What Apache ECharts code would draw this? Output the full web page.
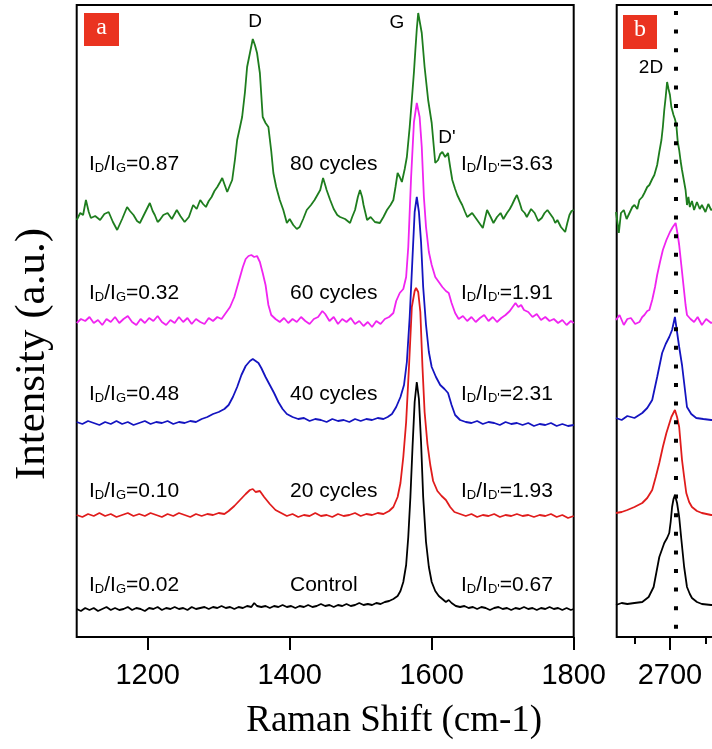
<!DOCTYPE html>
<html><head><meta charset="utf-8">
<script src="https://cdn.jsdelivr.net/npm/echarts@6/dist/echarts.min.js"></script>
<style>html,body{margin:0;padding:0;background:#fff}#c{width:712px;height:749px}</style>
</head><body><div id="c"></div>
<script>
// ---- data (Raman shift cm^-1, intensity a.u., curves offset vertically as in the figure) ----
const ticksA = [1200, 1400, 1600, 1800];
const ticksB = [2700, 2800];
const labelsB = [2700];
const minorTicksB = [2650, 2750];
const seriesNames = ['80 cycles', '60 cycles', '40 cycles', '20 cycles', 'Control'];
const seriesColors = ['#1e7d1e', '#f024f0', '#1414c0', '#e01c1c', '#000000'];
const ratioDG = ['0.87', '0.32', '0.48', '0.10', '0.02'];
const ratioDDp = ['3.63', '1.91', '2.31', '1.93', '0.67'];
const peakLabels = ['D', 'G', "D'"];
const line2D = 2708.5;

const a80 = [[1100,417],[1105,424],[1109,422],[1113,437],[1117,425],[1120,419],[1126,421],[1133,417],[1139,423],[1145,425],[1151,415],[1157,407],[1164,418],[1171,430],[1175,426],[1180,422],[1185,416],[1189,414],[1196,424],[1203,434],[1207,426],[1210,422],[1214,415],[1217,417],[1222,422],[1228,424],[1234,418],[1241,427],[1246,421],[1252,415],[1258,420],[1264,432],[1269,428],[1274,437],[1278,433],[1282,430],[1286,436],[1290,440],[1294,446],[1298,450],[1302,455],[1305,459],[1309,451],[1312,445],[1316,452],[1319,457],[1323,478],[1326,497],[1330,510],[1333,520],[1337,545],[1340,570],[1344,584],[1348,598],[1351,592],[1354,584],[1358,564],[1362,520],[1366,514],[1370,510],[1374,486],[1377,464],[1381,450],[1386,437],[1391,427],[1396,414],[1400,418],[1405,412],[1410,408],[1414,410],[1419,418],[1424,427],[1430,432],[1435,437],[1439,442],[1443,447],[1447,459],[1450,452],[1452,447],[1457,437],[1462,428],[1467,422],[1471,420],[1478,418],[1485,414],[1488,420],[1492,427],[1496,440],[1499,447],[1502,440],[1504,432],[1509,417],[1514,420],[1520,415],[1527,414],[1532,420],[1537,427],[1542,432],[1546,437],[1549,450],[1552,464],[1555,460],[1558,455],[1562,468],[1565,480],[1569,510],[1572,537],[1575,565],[1577,587],[1579,608],[1581,624],[1584,612],[1586,604],[1590,570],[1595,537],[1600,514],[1603,490],[1605,474],[1609,477],[1612,483],[1615,485],[1619,480],[1623,484],[1626,470],[1629,457],[1633,448],[1636,442],[1640,436],[1643,432],[1647,425],[1650,420],[1657,424],[1664,417],[1668,413],[1672,409],[1675,418],[1678,427],[1683,420],[1687,414],[1692,420],[1697,424],[1701,418],[1706,424],[1710,428],[1713,432],[1717,438],[1720,442],[1724,434],[1727,427],[1731,424],[1734,420],[1740,428],[1745,424],[1750,416],[1755,419],[1759,424],[1763,427],[1767,423],[1771,419],[1774,414],[1777,417],[1782,410],[1788,405],[1791,414],[1794,422],[1797,426],[1800,427]];
const a60 = [[1100,314],[1106,318],[1112,316],[1118,320],[1124,314],[1130,317],[1136,312],[1142,318],[1148,315],[1154,320],[1160,314],[1166,318],[1172,321],[1178,315],[1184,312],[1190,318],[1196,314],[1202,319],[1208,316],[1214,321],[1220,315],[1226,312],[1232,317],[1238,314],[1244,320],[1250,315],[1256,319],[1262,313],[1268,318],[1274,315],[1280,313],[1286,319],[1292,316],[1298,320],[1304,318],[1310,324],[1316,330],[1322,340],[1328,355],[1334,370],[1338,378],[1342,381],[1346,382],[1350,380],[1354,381],[1358,375],[1362,364],[1366,352],[1370,332],[1374,322],[1380,318],[1386,315],[1392,319],[1398,314],[1404,318],[1410,315],[1416,320],[1422,316],[1428,313],[1434,318],[1440,320],[1446,326],[1450,323],[1456,316],[1462,320],[1468,313],[1474,318],[1480,315],[1486,319],[1492,313],[1498,316],[1504,311],[1510,315],[1516,310],[1522,316],[1528,313],[1534,318],[1540,320],[1546,324],[1550,336],[1555,344],[1560,348],[1564,360],[1567,390],[1571,460],[1575,515],[1579,534],[1583,520],[1586,490],[1589,440],[1592,410],[1596,385],[1600,372],[1605,360],[1610,355],[1615,350],[1620,346],[1624,344],[1628,334],[1633,324],[1638,318],[1644,321],[1650,316],[1656,320],[1662,315],[1668,319],[1674,322],[1680,316],[1686,320],[1692,315],[1698,319],[1704,322],[1710,326],[1714,330],[1718,334],[1722,330],[1726,332],[1730,327],[1736,325],[1742,320],[1748,323],[1754,317],[1760,320],[1766,316],[1772,318],[1778,314],[1784,317],[1790,312],[1796,316],[1800,314]];
const a40 = [[1100,215],[1108,213],[1116,216],[1124,214],[1132,212],[1140,215],[1148,213],[1156,216],[1164,213],[1172,215],[1180,212],[1188,214],[1196,216],[1204,213],[1212,215],[1220,214],[1228,216],[1236,213],[1244,215],[1252,214],[1260,216],[1268,215],[1276,218],[1284,220],[1292,223],[1300,225],[1308,228],[1314,232],[1320,240],[1326,250],[1332,262],[1338,271],[1344,276],[1348,278],[1352,276],[1356,274],[1360,269],[1366,260],[1372,252],[1378,244],[1384,235],[1390,228],[1396,223],[1404,220],[1412,218],[1420,219],[1428,216],[1436,218],[1444,217],[1452,215],[1460,218],[1468,216],[1476,217],[1484,215],[1492,218],[1500,216],[1508,218],[1516,217],[1524,219],[1532,218],[1538,220],[1544,223],[1550,230],[1556,240],[1561,252],[1565,275],[1569,320],[1573,380],[1576,425],[1579,440],[1582,425],[1585,395],[1588,350],[1592,312],[1596,285],[1600,270],[1606,260],[1612,252],[1618,248],[1623,244],[1628,232],[1633,222],[1640,217],[1648,215],[1656,214],[1664,216],[1672,213],[1680,215],[1688,214],[1696,212],[1704,215],[1712,213],[1720,214],[1728,212],[1736,214],[1744,211],[1752,213],[1760,212],[1768,214],[1776,211],[1784,213],[1792,211],[1800,212]];
const a20 = [[1100,122],[1108,120],[1116,123],[1124,121],[1132,124],[1140,121],[1148,123],[1156,120],[1164,122],[1172,124],[1180,121],[1188,123],[1196,121],[1204,124],[1212,122],[1220,120],[1228,123],[1236,121],[1244,124],[1252,122],[1260,120],[1268,123],[1276,121],[1284,123],[1292,122],[1300,124],[1308,123],[1314,126],[1322,131],[1330,137],[1338,143],[1344,147],[1348,148],[1352,145],[1358,146],[1364,140],[1372,133],[1380,127],[1388,124],[1396,121],[1404,123],[1412,120],[1420,122],[1428,121],[1436,124],[1444,121],[1452,122],[1460,120],[1468,123],[1476,121],[1484,122],[1492,124],[1500,121],[1508,123],[1516,122],[1524,124],[1532,123],[1540,126],[1546,130],[1552,140],[1556,154],[1560,180],[1564,215],[1568,270],[1572,330],[1576,346],[1578,349],[1581,345],[1584,325],[1587,270],[1590,225],[1594,193],[1598,172],[1602,156],[1608,146],[1614,141],[1620,137],[1626,130],[1632,125],[1640,123],[1648,121],[1656,123],[1664,120],[1672,122],[1680,121],[1688,123],[1696,120],[1704,122],[1712,121],[1720,123],[1728,121],[1736,122],[1744,120],[1752,122],[1760,121],[1768,123],[1776,120],[1784,122],[1792,119],[1800,121]];
const a00 = [[1100,28],[1106,26],[1112,29],[1118,27],[1124,29],[1130,26],[1136,28],[1142,30],[1148,27],[1154,29],[1160,27],[1166,28],[1172,30],[1178,27],[1184,29],[1190,28],[1196,26],[1202,29],[1208,28],[1214,30],[1220,27],[1226,29],[1232,28],[1238,30],[1244,28],[1250,29],[1256,27],[1262,30],[1268,28],[1274,29],[1280,30],[1286,28],[1292,30],[1298,29],[1304,31],[1310,29],[1316,30],[1322,28],[1328,30],[1334,29],[1340,31],[1346,30],[1350,34],[1354,31],[1360,30],[1366,31],[1372,29],[1378,31],[1384,30],[1390,32],[1396,30],[1402,31],[1408,29],[1414,31],[1420,30],[1426,32],[1432,30],[1438,31],[1444,33],[1450,31],[1456,32],[1462,30],[1468,32],[1474,31],[1480,33],[1486,31],[1492,32],[1498,34],[1504,32],[1510,33],[1516,32],[1522,34],[1528,33],[1534,35],[1540,36],[1546,38],[1552,41],[1556,46],[1560,55],[1564,72],[1567,100],[1570,140],[1573,190],[1576,235],[1579,255],[1582,238],[1585,195],[1588,140],[1592,95],[1596,70],[1600,55],[1605,46],[1610,41],[1615,38],[1620,35],[1624,37],[1628,34],[1634,31],[1640,30],[1646,31],[1652,29],[1658,30],[1664,28],[1670,30],[1676,29],[1682,27],[1688,29],[1694,30],[1700,28],[1706,29],[1712,27],[1718,29],[1724,28],[1730,30],[1736,28],[1742,29],[1748,27],[1754,29],[1760,28],[1766,30],[1772,28],[1778,29],[1784,27],[1790,29],[1796,27],[1800,28]];

const b80 = [[2624,425],[2626,415],[2628,404],[2631,424],[2635,427],[2639,418],[2643,424],[2647,430],[2650,432],[2654,428],[2657,437],[2661,440],[2664,444],[2668,450],[2671,452],[2675,458],[2678,462],[2682,472],[2685,485],[2688,497],[2690,510],[2692,527],[2694,540],[2696,555],[2698,548],[2700,542],[2702,530],[2705,522],[2707,518],[2709,512],[2711,495],[2713,487],[2715,476],[2717,467],[2720,455],[2722,447],[2724,432],[2726,440],[2728,430],[2731,436],[2734,427],[2738,435],[2742,428],[2745,432],[2750,425],[2754,433],[2758,427],[2765,430],[2775,427]];
const b60 = [[2624,317],[2629,322],[2635,312],[2640,318],[2645,319],[2651,313],[2657,315],[2661,320],[2664,322],[2668,326],[2671,327],[2675,337],[2679,350],[2682,362],[2686,375],[2690,387],[2695,397],[2700,405],[2704,410],[2708,414],[2711,402],[2713,392],[2716,372],[2719,352],[2722,332],[2724,322],[2729,318],[2734,315],[2739,320],[2745,312],[2751,318],[2758,314],[2766,317],[2775,314]];
const b40 = [[2624,219],[2632,217],[2640,221],[2650,219],[2661,224],[2668,229],[2675,237],[2682,260],[2689,284],[2694,293],[2699,300],[2703,307],[2707,320],[2710,305],[2713,290],[2717,272],[2720,254],[2724,230],[2730,223],[2737,219],[2747,218],[2758,217],[2775,217]];
const b20 = [[2624,124],[2632,125],[2640,127],[2650,130],[2661,134],[2668,139],[2675,147],[2680,160],[2685,174],[2690,190],[2695,204],[2702,220],[2707,227],[2710,220],[2713,210],[2717,177],[2720,160],[2723,144],[2727,135],[2731,130],[2738,126],[2745,124],[2758,122],[2775,122]];
const b00 = [[2624,32],[2632,34],[2640,33],[2650,34],[2661,35],[2670,40],[2677,50],[2681,65],[2685,80],[2689,88],[2692,94],[2696,99],[2699,104],[2701,115],[2703,130],[2705,138],[2707,142],[2710,134],[2713,120],[2716,98],[2720,70],[2724,50],[2728,43],[2731,39],[2738,35],[2745,33],[2758,32],[2775,32]];

const panelA = [a80, a60, a40, a20, a00];
const panelB = [b80, b60, b40, b20, b00];

// ---- chart ----
const SANS = "'Liberation Sans', Arial, sans-serif";
const SERIF = "'Liberation Serif', 'Times New Roman', serif";
const chart = echarts.init(document.getElementById('c'), null, {renderer: 'canvas'});

const series = [];
panelA.forEach((d, i) => series.push({
  name: seriesNames[i], type: 'line', xAxisIndex: 0, yAxisIndex: 0, data: d,
  showSymbol: false, symbol: 'none', lineStyle: {color: seriesColors[i], width: 1.8},
  color: seriesColors[i], animation: false, z: 5 - i
}));
panelB.forEach((d, i) => series.push({
  name: seriesNames[i], type: 'line', xAxisIndex: 1, yAxisIndex: 1, data: d,
  showSymbol: false, symbol: 'none', lineStyle: {color: seriesColors[i], width: 1.8},
  color: seriesColors[i], animation: false, z: 5 - i
}));
series.push({
  type: 'line', xAxisIndex: 1, yAxisIndex: 1, data: [[line2D, 626], [line2D, 0]],
  showSymbol: false, symbol: 'none', animation: false, z: 10,
  lineStyle: {color: '#000', width: 4, type: [4, 14.6]}
});

function ratioText(subA, subB, val) {
  return '{m|I}{s|' + subA + '}{m|/I}{s|' + subB + '}{m|=' + val + '}';
}
const rich = {
  m: {fontSize: 21, fontFamily: SANS, fill: '#000'},
  s: {fontSize: 13, fontFamily: SANS, fill: '#000', padding: [9, 0, 0, 0]}
};
const rowY = [164, 293, 394, 491, 585];
const graphics = [];
rowY.forEach((y, i) => {
  graphics.push({type: 'text', x: 89, y: y, style: {text: ratioText('D', 'G', ratioDG[i]), rich: rich, align: 'left', verticalAlign: 'middle', font: '21px ' + SANS}});
  graphics.push({type: 'text', x: 290, y: y, style: {text: seriesNames[i], align: 'left', verticalAlign: 'middle', font: '21px ' + SANS, fill: '#000'}});
  graphics.push({type: 'text', x: 461, y: y, style: {text: ratioText('D', "D'", ratioDDp[i]), rich: rich, align: 'left', verticalAlign: 'middle', font: '21px ' + SANS}});
});
graphics.push({type: 'text', x: 255, y: 22, style: {text: peakLabels[0], align: 'center', verticalAlign: 'middle', font: '19px ' + SANS, fill: '#000'}});
graphics.push({type: 'text', x: 397, y: 23, style: {text: peakLabels[1], align: 'center', verticalAlign: 'middle', font: '19px ' + SANS, fill: '#000'}});
graphics.push({type: 'text', x: 447, y: 138, style: {text: peakLabels[2], align: 'center', verticalAlign: 'middle', font: '19px ' + SANS, fill: '#000'}});
graphics.push({type: 'text', x: 651, y: 68, style: {text: '2D', align: 'center', verticalAlign: 'middle', font: '19px ' + SANS, fill: '#000'}});
graphics.push({type: 'rect', shape: {x: 84, y: 13, width: 35, height: 33}, style: {fill: '#ea3320'}});
graphics.push({type: 'text', x: 101.5, y: 28, style: {text: 'a', align: 'center', verticalAlign: 'middle', font: '24px ' + SERIF, fill: '#fff'}});
graphics.push({type: 'rect', shape: {x: 623, y: 15, width: 34, height: 34}, style: {fill: '#ea3320'}});
graphics.push({type: 'text', x: 640, y: 30, style: {text: 'b', align: 'center', verticalAlign: 'middle', font: '24px ' + SERIF, fill: '#fff'}});

const axisLabelStyle = {fontSize: 29, fontFamily: SANS, color: '#000', margin: 24, formatter: v => String(v)};
chart.setOption({
  animation: false,
  backgroundColor: '#fff',
  grid: [
    {left: 76.7, top: 5, width: 497, height: 632, show: true, borderColor: '#000', borderWidth: 2, backgroundColor: 'transparent', outerBoundsMode: 'none', containLabel: false},
    {left: 616.7, top: 5, width: 142, height: 632, show: true, borderColor: '#000', borderWidth: 2, backgroundColor: 'transparent', outerBoundsMode: 'none', containLabel: false}
  ],
  xAxis: [
    {type: 'value', gridIndex: 0, min: 1100, max: 1800,
     name: 'Raman Shift (cm-1)', nameLocation: 'middle', nameGap: 66,
     nameTextStyle: {fontSize: 37, fontFamily: SERIF, color: '#000', padding: [0, 0, 0, 138]},
     axisLine: {show: false}, splitLine: {show: false},
     axisTick: {show: true, inside: false, length: 13, lineStyle: {color: '#000', width: 2}, customValues: ticksA},
     axisLabel: Object.assign({customValues: ticksA}, axisLabelStyle)},
    {type: 'value', gridIndex: 1, min: 2625, max: 2825,
     axisLine: {show: false}, splitLine: {show: false},
     axisTick: {show: true, inside: false, length: 13, lineStyle: {color: '#000', width: 2}, customValues: ticksB},
     axisLabel: Object.assign({customValues: labelsB}, axisLabelStyle)},
    {type: 'value', gridIndex: 1, min: 2625, max: 2825, position: 'bottom', offset: 0,
     axisLine: {show: false}, splitLine: {show: false},
     axisTick: {show: true, inside: false, length: 7, lineStyle: {color: '#000', width: 2}, customValues: minorTicksB},
     axisLabel: {show: false}}
  ],
  yAxis: [
    {type: 'value', gridIndex: 0, min: 0, max: 632,
     name: 'Intensity (a.u.)', nameLocation: 'middle', nameGap: 22, nameRotate: 90,
     nameTextStyle: {fontSize: 43, fontFamily: SERIF, color: '#000', padding: [0, 66, 0, 0]},
     axisLine: {show: false}, axisTick: {show: false}, axisLabel: {show: false}, splitLine: {show: false}},
    {type: 'value', gridIndex: 1, min: 0, max: 632,
     axisLine: {show: false}, axisTick: {show: false}, axisLabel: {show: false}, splitLine: {show: false}}
  ],
  series: series,
  graphic: graphics
});
</script>
</body></html>
